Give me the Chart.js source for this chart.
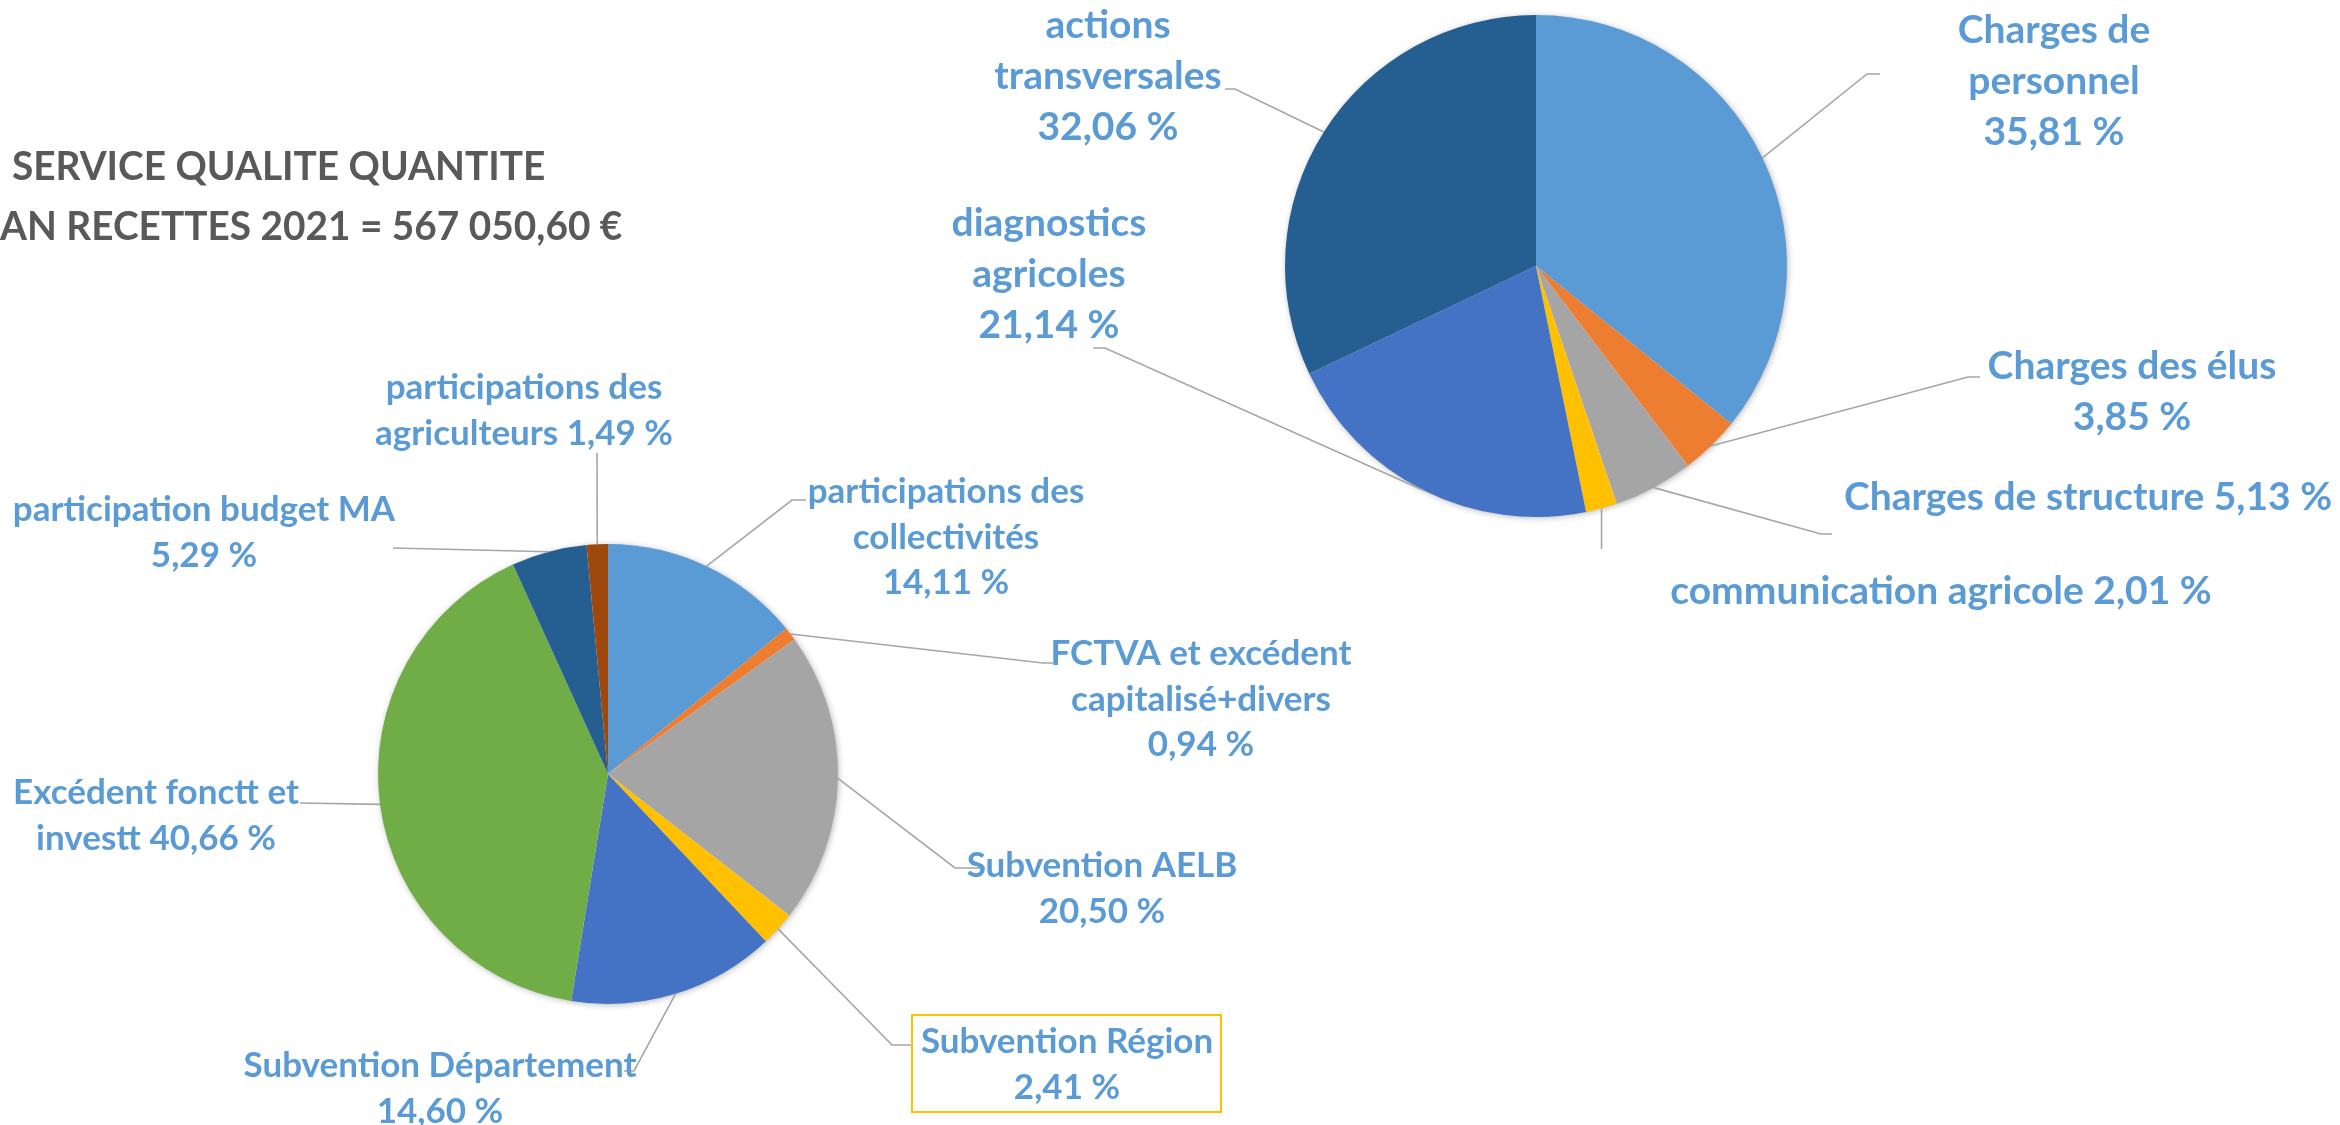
<!DOCTYPE html>
<html><head><meta charset="utf-8">
<script src="https://cdn.jsdelivr.net/npm/chart.js@4.4.1/dist/chart.umd.min.js"></script>
<style>
html,body{margin:0;padding:0;background:#fff;width:2340px;height:1125px;overflow:hidden}
canvas{position:absolute;left:0;top:0}
</style></head><body>
<canvas id="cRec" width="2340" height="1125"></canvas>
<canvas id="cDep" width="2340" height="1125"></canvas>
<script>
// ---- DATA ----
const titleLines = ["SERVICE QUALITE QUANTITE", "AN RECETTES 2021 = 567 050,60 \u20AC"];

const recettesCategories = ["participations des collectivités", "FCTVA et excédent capitalisé+divers", "Subvention AELB", "Subvention Région", "Subvention Département", "Excédent fonctt et investt", "participation budget MA", "participations des agriculteurs"];
const recettesValues = [14.11, 0.94, 20.50, 2.41, 14.60, 40.66, 5.29, 1.49];
const recettesLabelText = ["participations des\ncollectivités\n{v}", "FCTVA et excédent\ncapitalisé+divers\n{v}", "Subvention AELB\n{v}", "Subvention Région\n{v}", "Subvention Département\n{v}", "Excédent fonctt et\ninvestt {v}", "participation budget MA\n{v}", "participations des\nagriculteurs {v}"];

const depensesCategories = ["Charges de personnel", "Charges des élus", "Charges de structure", "communication agricole", "diagnostics agricoles", "actions transversales"];
const depensesValues = [35.81, 3.85, 5.13, 2.01, 21.14, 32.06];
const depensesLabelText = ["Charges de\npersonnel\n{v}", "Charges des élus\n{v}", "Charges de structure {v}", "communication agricole {v}", "diagnostics\nagricoles\n{v}", "actions\ntransversales\n{v}"];

// ---- STYLE / LAYOUT ----
const recettesColors = ['#5B9BD5','#ED7D31','#A5A5A5','#FFC000','#4472C4','#70AD47','#255E91','#9E480E'];
const depensesColors = ['#5B9BD5','#ED7D31','#A5A5A5','#FFC000','#4472C4','#255E91'];
// label anchor layout: x = text centre, y = first-line centre, pts = leader line points after slice edge
const recettesLayout = [
  {x: 946, y: 492, pts: [[792,500],[806,500]]},
  {x: 1201, y: 654, pts: [[1043,663],[1053,663]]},
  {x: 1102, y: 866, pts: [[955,868],[985,868]]},
  {x: 1067, y: 1042, pts: [[892,1045],[912,1045]], box: [912,1015,309,97]},
  {x: 440, y: 1066, pts: [[634,1071],[624,1071]]},
  {x: 156, y: 793, pts: [[300,803]]},
  {x: 204, y: 510, pts: [[393,548]]},
  {x: 524, y: 388, pts: [[597,453]]}
];
const depensesLayout = [
  {x: 2054, y: 30, pts: [[1867,74],[1880,74]]},
  {x: 2132, y: 366, pts: [[1968,377],[1980,377]]},
  {x: 2088, y: 497, pts: [[1821,534],[1832,534]]},
  {x: 1941, y: 591, pts: [[null,549]]},
  {x: 1049, y: 223, pts: [[1105,348],[1093,348]]},
  {x: 1108, y: 25, pts: [[1235,89],[1225,89]]}
];

const labelColor = '#5B9BD5';
const leaderColor = '#A6A6A6';

function fmt(v){ return v.toFixed(2).replace('.', ',') + ' %'; }

function drawText(ctx, text, x, y, sx, align){
  ctx.save();
  ctx.translate(x, y);
  ctx.scale(sx, 1);
  ctx.textAlign = align || 'center';
  ctx.fillText(text, 0, 0);
  ctx.restore();
}

function labelPlugin(id, texts, values, layout, font, sx, lh){
  return {
    id: id,
    beforeDatasetsDraw(chart){
      const meta = chart.getDatasetMeta(0);
      const a = meta.data[0];
      const ctx = chart.ctx;
      ctx.save();
      ctx.shadowColor = 'rgba(0,0,0,0.35)';
      ctx.shadowBlur = 7;
      ctx.shadowOffsetX = 1;
      ctx.shadowOffsetY = 1;
      ctx.beginPath();
      ctx.arc(a.x, a.y, a.outerRadius - 1, 0, Math.PI*2);
      ctx.fillStyle = '#ffffff';
      ctx.fill();
      ctx.restore();
    },
    afterDatasetsDraw(chart){
      const ctx = chart.ctx;
      const meta = chart.getDatasetMeta(0);
      meta.data.forEach((arc, i) => {
        const L = layout[i];
        const mid = (arc.startAngle + arc.endAngle) / 2;
        const ex = arc.x + Math.cos(mid) * arc.outerRadius;
        const ey = arc.y + Math.sin(mid) * arc.outerRadius;
        ctx.save();
        ctx.strokeStyle = leaderColor;
        ctx.lineWidth = 1.6;
        ctx.beginPath();
        ctx.moveTo(ex, ey);
        L.pts.forEach(p => ctx.lineTo(p[0] === null ? ex : p[0], p[1]));
        ctx.stroke();
        ctx.restore();
        if (L.box){
          ctx.save();
          ctx.strokeStyle = '#FFC000';
          ctx.lineWidth = 2;
          ctx.strokeRect(L.box[0], L.box[1], L.box[2], L.box[3]);
          ctx.restore();
        }
        const lines = texts[i].replace('{v}', fmt(values[i])).split('\n');
        ctx.save();
        ctx.font = font;
        ctx.fillStyle = labelColor;
        ctx.textBaseline = 'middle';
        lines.forEach((t, k) => drawText(ctx, t, L.x, L.y + k * lh, sx, 'center'));
        ctx.restore();
      });
    }
  };
}

const titlePlugin = {
  id: 'titleText',
  afterDraw(chart){
    const ctx = chart.ctx;
    ctx.save();
    ctx.font = 'bold 40px Lato';
    ctx.fillStyle = '#595959';
    ctx.textBaseline = 'middle';
    drawText(ctx, titleLines[0], 12, 167, 0.97, 'left');
    drawText(ctx, titleLines[1], 0, 227, 0.97, 'left');
    ctx.restore();
  }
};

Chart.defaults.font.family = 'Lato';

new Chart(document.getElementById('cRec'), {
  type: 'pie',
  data: { labels: recettesCategories, datasets: [{ data: recettesValues, backgroundColor: recettesColors, borderWidth: 0 }] },
  options: {
    responsive: false, animation: false, devicePixelRatio: 1,
    layout: { padding: { left: 378, right: 1502, top: 544, bottom: 121 } },
    plugins: { legend: { display: false }, tooltip: { enabled: false }, title: { display: false } }
  },
  plugins: [labelPlugin('recLabels', recettesLabelText, recettesValues, recettesLayout, 'bold 35px Lato', 1.0, 45.5), titlePlugin]
});

new Chart(document.getElementById('cDep'), {
  type: 'pie',
  data: { labels: depensesCategories, datasets: [{ data: depensesValues, backgroundColor: depensesColors, borderWidth: 0 }] },
  options: {
    responsive: false, animation: false, devicePixelRatio: 1,
    layout: { padding: { left: 1285, right: 553, top: 15, bottom: 608 } },
    plugins: { legend: { display: false }, tooltip: { enabled: false }, title: { display: false } }
  },
  plugins: [labelPlugin('depLabels', depensesLabelText, depensesValues, depensesLayout, 'bold 39px Lato', 1.0, 51)]
});
</script>
</body></html>
